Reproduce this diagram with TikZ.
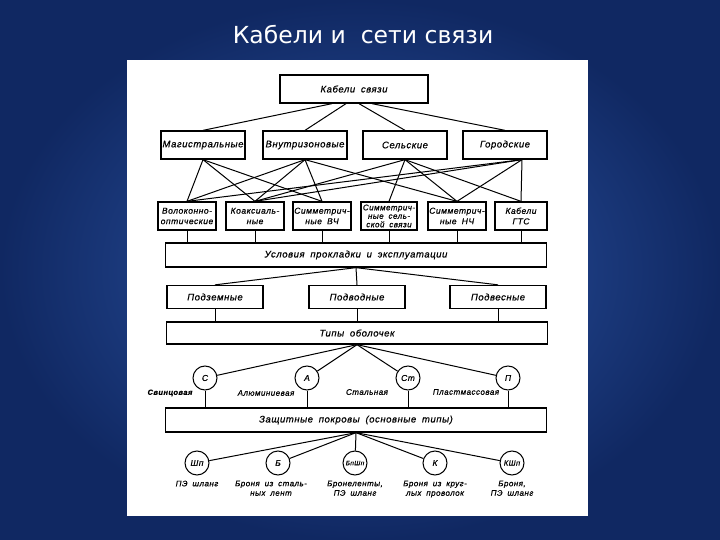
\documentclass[tikz,border=0pt]{standalone}
\usepackage{fontspec}
\setmainfont{Liberation Sans}
\newfontfamily\titlefont{DejaVu Sans}
\newfontfamily\schemefont[LetterSpace=6,WordSpace=1.8,FakeBold=0.6]{Liberation Sans}
\usetikzlibrary{positioning}
\definecolor{bgdark}{RGB}{16,40,98}
\definecolor{bglight}{RGB}{46,88,170}

\tikzset{
  link/.style={line width=1pt},
  box/.style={draw,line width=1.3pt,inner sep=1pt,align=center,minimum height=28pt,
    font=\schemefont\itshape\fontsize{9.5}{11}\selectfont},
  kind/.style={box,minimum width=84pt},
  cable/.style={box,minimum width=58pt,font=\schemefont\itshape\fontsize{8.5}{10.5}\selectfont},
  wide/.style={box,minimum width=381pt,minimum height=24pt},
  place/.style={box,minimum width=96pt,minimum height=23pt},
  ring/.style={draw,circle,line width=1pt,minimum size=24pt,inner sep=0pt,
    font=\schemefont\itshape\fontsize{8.5}{9}\selectfont},
  tag/.style={inner sep=0pt,align=center,font=\schemefont\itshape\fontsize{8}{9.5}\selectfont}
}

\begin{document}
\begin{tikzpicture}[x=1pt,y=-1pt]
  \useasboundingbox (0,0) rectangle (720,540);
  \shade[inner color=bglight,outer color=bgdark] (0,0) rectangle (720,540);
  \fill[white] (127,60) rectangle (588,516);
  \node[text=white,font=\titlefont\fontsize{23.5}{27}\selectfont] (title) at (363,35) {Кабели и~ сети связи};

  \node[box,minimum width=148pt] (kab) at (354,89) {Кабели связи};
  \node[kind] (mag) at (203,145) {Магистральные};
  \node[kind] (vnz) at (305,145) {Внутризоновые};
  \node[kind] (sel) at (405,145) {Сельские};
  \node[kind] (gor) at (505,145) {Городские};

  \node[cable] (vol) at (187,216) {Волоконно-\\оптические};
  \node[cable] (koa) at (255,216) {Коаксиаль-\\ные};
  \node[cable] (svch) at (322,216) {Симметрич-\\ные ВЧ};
  \node[cable,minimum width=56pt,font=\schemefont\itshape\fontsize{8}{8.5}\selectfont] (sss) at (389,216) {Симметрич-\\ные сель-\\ской связи};
  \node[cable] (snch) at (457,216) {Симметрич-\\ные НЧ};
  \node[cable,minimum width=52pt] (gts) at (521,216) {Кабели\\ГТС};

  \node[wide] (usl) at (356,255) {Условия прокладки и эксплуатации};

  \node[place] (pz) at (215,297) {Подземные};
  \node[place] (pvd) at (357,297) {Подводные};
  \node[place] (pvs) at (498,297) {Подвесные};

  \node[wide,minimum height=22pt] (tip) at (357,333) {Типы оболочек};

  \node[ring] (cS) at (205,378) {С};
  \node[ring] (cA) at (307,378) {А};
  \node[ring] (cSt) at (408,378) {Ст};
  \node[ring] (cP) at (508,378) {П};
  \node[tag,font=\schemefont\bfseries\itshape\fontsize{7.5}{9}\selectfont] (tS) at (170,393) {Свинцовая};
  \node[tag] (tA) at (266,393) {Алюминиевая};
  \node[tag] (tSt) at (367,392) {Стальная};
  \node[tag] (tP) at (466,392) {Пластмассовая};

  \node[wide] (zsh) at (356,420) {Защитные покровы (основные типы)};

  \node[ring] (sh) at (197,463) {Шп};
  \node[ring] (br) at (278,463) {Б};
  \node[ring,font=\schemefont\itshape\fontsize{6.5}{7}\selectfont] (bsh) at (355,463) {БпШп};
  \node[ring] (kr) at (435,463) {К};
  \node[ring,font=\schemefont\itshape\fontsize{7.5}{8}\selectfont] (ksh) at (512,463) {КШп};
  \node[tag,below=5pt of sh] (t1) {ПЭ шланг};
  \node[tag,below=5pt of br,xshift=-7pt] (t2) {Броня из сталь-\\ных лент};
  \node[tag,below=5pt of bsh] (t3) {Бронеленты,\\ПЭ шланг};
  \node[tag,below=5pt of kr] (t4) {Броня из круг-\\лых проволок};
  \node[tag,below=5pt of ksh] (t5) {Броня,\\ПЭ шланг};

  \coordinate (gorb) at ([xshift=17pt]gor.south);
  \draw[link] ([xshift=-22pt]kab.south) -- (mag.north);
  \draw[link] ([xshift=-8pt]kab.south) -- (vnz.north);
  \draw[link] ([xshift=5pt]kab.south) -- (sel.north);
  \draw[link] ([xshift=18pt]kab.south) -- (gor.north);
  \foreach \a/\b in {mag/vol,mag/koa,mag/svch,vnz/vol,vnz/koa,vnz/svch,vnz/snch,
                     sel/koa,sel/sss,sel/snch,sel/gts}
    \draw[link] (\a.south) -- (\b.north);
  \foreach \b in {vol,koa,snch,gts}
    \draw[link] (gorb) -- (\b.north);
  \foreach \n in {vol,koa,svch,sss,snch,gts}
    \draw[link] (\n.south) -- (\n.south |- usl.north);
  \foreach \n in {pz,pvd,pvs} {
    \draw[link] (usl.south) -- (\n.north);
    \draw[link] (\n.south) -- (\n.south |- tip.north);
  }
  \foreach \n in {cS,cA,cSt,cP} {
    \draw[link] (tip.south) -- (\n);
    \draw[link] (\n.south) -- (\n.south |- zsh.north);
  }
  \foreach \n in {sh,br,bsh,kr,ksh}
    \draw[link] (zsh.south) -- (\n);
\end{tikzpicture}
\end{document}
